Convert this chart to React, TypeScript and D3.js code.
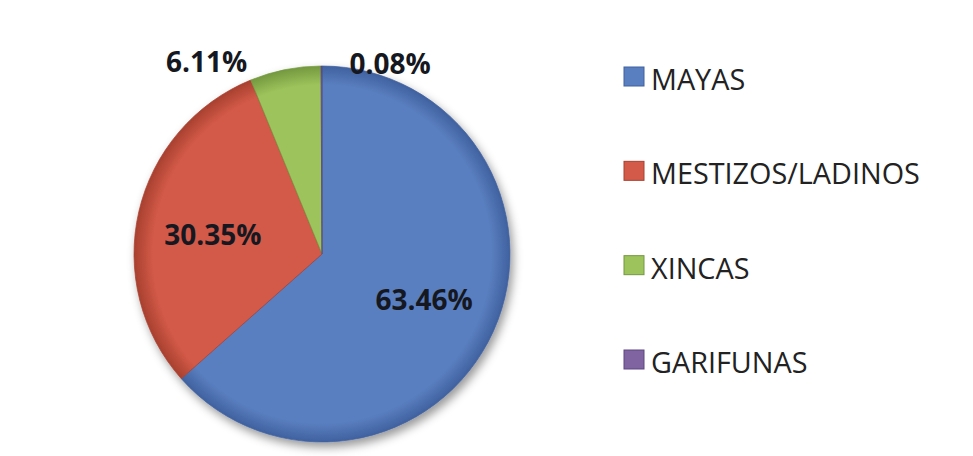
import * as d3 from 'd3'
import { useEffect, useRef } from 'react'

const WIDTH = 973
const HEIGHT = 456

const CATEGORIES = ['MAYAS', 'MESTIZOS/LADINOS', 'XINCAS', 'GARIFUNAS']
const VALUES = [63.46, 30.35, 6.11, 0.08]
const LABELS = ['63.46%', '30.35%', '6.11%', '0.08%']

const COLORS = ['#5a7fc0', '#d35a48', '#9dc35c', '#8064a2']
const DARK = ['#40619f', '#a8402f', '#74983f', '#5c4680']

// inside labels sit on the centroid ring, outside ones hang off the rim
const INSIDE = [true, true, false, false]
const OUT_OFFSET: [number, number, string][] = [
  [0, 0, 'middle'],
  [0, 6, 'middle'],
  [-38, 2, 'end'],
  [28, 8, 'start'],
]

const CX = 322
const CY = 254
const R = 188

function drawChart(el: SVGSVGElement) {
  const svg = d3.select(el)
  svg.selectAll('*').remove()

  const defs = svg.append('defs')
  defs
    .append('filter')
    .attr('id', 'shadow')
    .attr('x', '-20%')
    .attr('y', '-20%')
    .attr('width', '140%')
    .attr('height', '140%')
    .append('feDropShadow')
    .attr('dx', 3)
    .attr('dy', 5)
    .attr('stdDeviation', 5)
    .attr('flood-color', '#000')
    .attr('flood-opacity', 0.4)

  COLORS.forEach((c, i) => {
    const g = defs
      .append('radialGradient')
      .attr('id', `grad${i}`)
      .attr('gradientUnits', 'userSpaceOnUse')
      .attr('cx', 0)
      .attr('cy', 0)
      .attr('r', R)
    g.append('stop').attr('offset', '0%').attr('stop-color', c)
    g.append('stop').attr('offset', '90%').attr('stop-color', c)
    g.append('stop').attr('offset', '100%').attr('stop-color', DARK[i])
  })

  const pie = d3
    .pie<number>()
    .sort(null)
    .value((d) => d)
  const arcs = pie(VALUES)
  const arc = d3.arc<d3.PieArcDatum<number>>().innerRadius(0).outerRadius(R)
  const labelArc = d3.arc<d3.PieArcDatum<number>>().innerRadius(112).outerRadius(112)
  const rimArc = d3.arc<d3.PieArcDatum<number>>().innerRadius(R).outerRadius(R)

  const g = svg.append('g').attr('transform', `translate(${CX},${CY})`)
  g.append('g')
    .attr('filter', 'url(#shadow)')
    .selectAll('path')
    .data(arcs)
    .join('path')
    .attr('d', arc)
    .attr('fill', (_, i) => `url(#grad${i})`)
    .attr('stroke', (_, i) => DARK[i])
    .attr('stroke-width', 1)
    .attr('stroke-opacity', 0.7)

  g.append('g')
    .selectAll('text')
    .data(arcs)
    .join('text')
    .attr('x', (d, i) => (INSIDE[i] ? labelArc.centroid(d)[0] : rimArc.centroid(d)[0]) + OUT_OFFSET[i][0])
    .attr('y', (d, i) => (INSIDE[i] ? labelArc.centroid(d)[1] : rimArc.centroid(d)[1]) + OUT_OFFSET[i][1])
    .attr('dy', (_, i) => (INSIDE[i] ? '0.36em' : 0))
    .attr('text-anchor', (_, i) => OUT_OFFSET[i][2])
    .attr('font-family', '"Open Sans", sans-serif')
    .attr('font-weight', 700)
    .attr('font-size', 28)
    .attr('fill', '#151820')
    .text((_, i) => LABELS[i])

  const y = d3
    .scalePoint<string>()
    .domain(CATEGORIES)
    .range([90, 373])
  const legend = svg
    .append('g')
    .selectAll('g')
    .data(CATEGORIES)
    .join('g')
    .attr('transform', (d) => `translate(624,${y(d)})`)
  legend
    .append('rect')
    .attr('x', 0)
    .attr('y', -23)
    .attr('width', 20)
    .attr('height', 19)
    .attr('fill', (_, i) => COLORS[i])
    .attr('stroke', (_, i) => DARK[i])
    .attr('stroke-width', 1)
  legend
    .append('text')
    .attr('x', 27)
    .attr('y', 0)
    .attr('font-family', '"Open Sans", sans-serif')
    .attr('font-weight', 500)
    .attr('font-size', 28.8)
    .attr('fill', '#222')
    .text((d) => d)
}

export default function App() {
  const ref = useRef<SVGSVGElement>(null)
  useEffect(() => {
    if (ref.current) drawChart(ref.current)
  }, [])
  return (
    <svg
      ref={ref}
      width={WIDTH}
      height={HEIGHT}
      viewBox={`0 0 ${WIDTH} ${HEIGHT}`}
      style={{ position: 'absolute', left: 0, top: 0, background: '#fff' }}
    />
  )
}
